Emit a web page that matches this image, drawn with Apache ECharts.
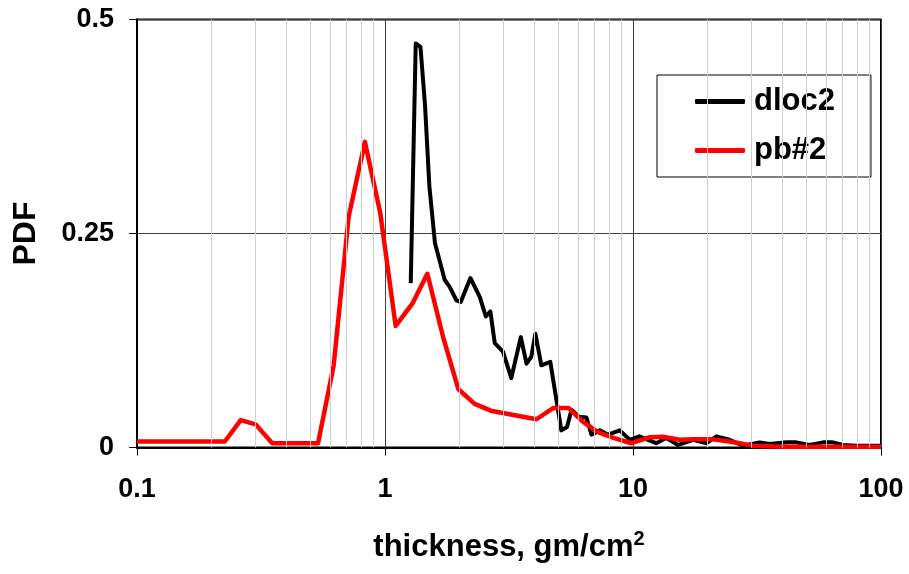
<!DOCTYPE html>
<html>
<head>
<meta charset="utf-8">
<script src="https://cdn.jsdelivr.net/npm/echarts@6/dist/echarts.min.js"></script>
<style>
html,body{margin:0;padding:0;background:#fff;}
#c{width:909px;height:574px;}
</style>
</head>
<body>
<div id="c"></div>
<script>
// ---- data ----
var dlocX = [1.27,1.33,1.39,1.45,1.51,1.59,1.74,1.82,1.94,2.02,2.21,2.41,2.55,2.66,2.77,2.99,3.23,3.53,3.72,3.89,4.04,4.27,4.64,5.14,5.42,5.65,6.06,6.49,6.80,7.35,7.93,8.84,9.70,10.6,12.4,13.6,15.2,17.5,19.8,21.7,24.5,27.8,32.4,35.6,41.6,45.6,51.5,58.4,64.0,70.3,79.6,100];
var dlocY = [0.192,0.472,0.468,0.400,0.305,0.239,0.196,0.188,0.172,0.170,0.198,0.176,0.153,0.159,0.122,0.112,0.081,0.129,0.098,0.106,0.133,0.096,0.100,0.020,0.024,0.044,0.036,0.035,0.015,0.020,0.015,0.020,0.009,0.013,0.005,0.011,0.003,0.009,0.005,0.013,0.009,0.002,0.006,0.004,0.006,0.006,0.003,0.006,0.006,0.003,0.002,0.002];
var pbX = [0.1,0.226,0.262,0.301,0.351,0.537,0.621,0.714,0.830,0.957,1.104,1.289,1.482,1.715,1.977,2.30,2.67,4.08,4.76,5.50,6.29,7.22,8.4,9.85,11.7,13.2,15.4,17.5,21.0,24.5,30.5,40,60,100];
var pbY = [0.007,0.007,0.032,0.027,0.005,0.005,0.096,0.270,0.357,0.274,0.142,0.168,0.203,0.129,0.068,0.051,0.043,0.033,0.046,0.046,0.030,0.018,0.011,0.005,0.012,0.0126,0.009,0.0095,0.0095,0.007,0.002,0.001,0.001,0.001];
var minorGrid = [0.2,0.3,0.4,0.5,0.6,0.7,0.8,0.9,2,3,4,5,6,7,8,9,20,30,40,50,60,70,80,90];
var yTicks = [0, 0.25, 0.5];
var xTicks = [0.1, 1, 10, 100];

function zip(a, b) { return a.map(function (v, i) { return [v, b[i]]; }); }

var FONT = "'Liberation Sans', Arial, sans-serif";
var chart = echarts.init(document.getElementById('c'), null, {renderer: 'canvas'});
chart.setOption({
  animation: false,
  backgroundColor: '#fff',
  grid: {left: 137, right: 28, top: 19.5, bottom: 126.5, show: true, borderColor: '#000', borderWidth: 2, containLabel: false},
  xAxis: {
    type: 'log', logBase: 10, min: xTicks[0], max: xTicks[xTicks.length - 1],
    name: 'thickness, gm/cm{sup|2}', nameLocation: 'middle', nameGap: 82,
    nameTextStyle: {fontFamily: FONT, fontWeight: 'bold', fontSize: 31, color: '#000', lineHeight: 36,
      rich: {sup: {fontFamily: FONT, fontWeight: 'bold', fontSize: 20, color: '#000', verticalAlign: 'top', lineHeight: 20}}},
    axisLine: {show: true, lineStyle: {color: '#000', width: 2}},
    axisTick: {show: true, inside: false, length: 8, lineStyle: {color: '#000', width: 1}},
    axisLabel: {fontFamily: FONT, fontWeight: 'bold', fontSize: 27, color: '#000', margin: 29,
      formatter: function (v) { return String(+v.toPrecision(3)); }},
    splitLine: {show: true, lineStyle: {color: '#404040', width: 1}},
    minorTick: {show: false}, minorSplitLine: {show: false}
  },
  yAxis: {
    type: 'value', min: yTicks[0], max: yTicks[yTicks.length - 1], interval: 0.25,
    name: 'PDF', nameLocation: 'middle', nameGap: 95, nameRotate: 90,
    nameTextStyle: {fontFamily: FONT, fontWeight: 'bold', fontSize: 32, color: '#000'},
    axisLine: {show: true, lineStyle: {color: '#000', width: 2}},
    axisTick: {show: true, inside: false, length: 8, lineStyle: {color: '#000', width: 1}},
    axisLabel: {fontFamily: FONT, fontWeight: 'bold', fontSize: 27, color: '#000', margin: 23},
    splitLine: {show: true, lineStyle: {color: '#404040', width: 1}}
  },
  legend: {
    orient: 'vertical', left: 657, top: 75,
    padding: [11, 36, 11, 38], itemGap: 18,
    backgroundColor: '#fff', borderColor: '#000', borderWidth: 1, borderRadius: 0,
    itemWidth: 50, itemHeight: 5,
    textStyle: {fontFamily: FONT, fontWeight: 'bold', fontSize: 31, color: '#000', lineHeight: 30, padding: [0, 0, 0, 4]},
    data: [{name: 'dloc2', icon: 'roundRect'}, {name: 'pb#2', icon: 'roundRect'}]
  },
  series: [
    {
      name: 'minor', type: 'line', data: [], silent: true,
      markLine: {silent: true, symbol: 'none', animation: false, label: {show: false},
        lineStyle: {color: '#cfcfcf', width: 1, type: 'solid'},
        emphasis: {disabled: true},
        data: minorGrid.map(function (v) { return {xAxis: v}; })},
      z: 1
    },
    {name: 'dloc2', type: 'line', data: zip(dlocX, dlocY), showSymbol: false, symbol: 'none',
      lineStyle: {color: '#000', width: 4, join: 'round'}, itemStyle: {color: '#000'}, z: 3},
    {name: 'pb#2', type: 'line', data: zip(pbX, pbY), showSymbol: false, symbol: 'none',
      lineStyle: {color: '#ff0000', width: 4.5, join: 'round'}, itemStyle: {color: '#ff0000'}, z: 4}
  ]
});
</script>
</body>
</html>
